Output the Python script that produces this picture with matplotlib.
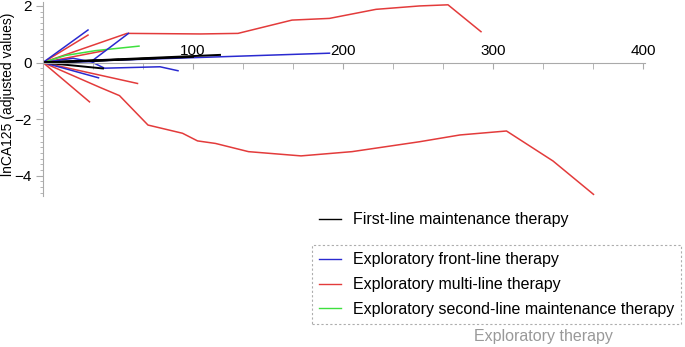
import matplotlib.pyplot as plt
from matplotlib.lines import Line2D
from matplotlib.ticker import MultipleLocator, FixedLocator

plt.rcParams['font.family'] = ['Liberation Sans', 'DejaVu Sans']

# first-line maintenance therapy (black)
first_x = [[0, 118], [0, 40], [0, 30, 75], [0, 50], [0, 100]]
first_y = [[0, 0.27], [0, -0.21], [0, 0.05, 0.15], [0, 0.1], [0, 0.2]]

# exploratory front-line therapy (blue)
front_x = [[0, 30], [0, 20, 32, 57], [0, 32, 41, 78, 90], [0, 37], [0, 105, 191]]
front_y = [[0, 1.15], [0, 0.15, 0.03, 1.03], [0, 0.03, -0.2, -0.15, -0.29], [0, -0.54], [0, 0.18, 0.33]]

# exploratory multi-line therapy (red)
multi_x = [[0, 30],
           [0, 56, 105, 130, 166, 191, 222, 251, 270, 292],
           [0, 41],
           [0, 31],
           [0, 63],
           [0, 38, 51, 70, 93, 103, 115, 137, 172, 206, 251, 278, 309, 340, 367]]
multi_y = [[0, 0.97],
           [0, 1.03, 1.01, 1.03, 1.50, 1.56, 1.88, 2.0, 2.04, 1.09],
           [0, 0.42],
           [0, -1.39],
           [0, -0.74],
           [0, -0.88, -1.17, -2.21, -2.50, -2.77, -2.86, -3.15, -3.30, -3.15, -2.80, -2.56, -2.42, -3.48, -4.66]]

# exploratory second-line maintenance therapy (green)
second_x = [[0, 15, 35, 64]]
second_y = [[0, 0.25, 0.42, 0.58]]

BLACK = '#000000'
BLUE = '#2a2ad0'
RED = '#e33b3b'
GREEN = '#3ee03e'

fig = plt.figure(figsize=(6.85, 3.47), dpi=100)
ax = fig.add_axes([43 / 685, (347 - 195.5) / 347, 601.5 / 685, 193.8 / 347])

for xs, ys in zip(multi_x, multi_y):
    ax.plot(xs, ys, color=RED, lw=1.1)
for xs, ys in zip(second_x, second_y):
    ax.plot(xs, ys, color=GREEN, lw=1.1)
for xs, ys in zip(front_x, front_y):
    ax.plot(xs, ys, color=BLUE, lw=1.1)
for xs, ys in zip(first_x, first_y):
    ax.plot(xs, ys, color=BLACK, lw=1.4)

ax.set_xlim(0, 401)
ax.set_ylim(-4.7, 2.15)

for s in ['top', 'right']:
    ax.spines[s].set_visible(False)
ax.spines['bottom'].set_position(('data', 0))
ax.spines['bottom'].set_bounds(0, 401)
ax.spines['bottom'].set_color('#aaaaaa')
ax.spines['left'].set_color('#aaaaaa')

ax.xaxis.set_major_locator(FixedLocator([100, 200, 300, 400]))
ax.xaxis.set_minor_locator(MultipleLocator(100 / 3))
ax.tick_params(axis='x', which='both', direction='out', length=4, color='#aaaaaa',
               pad=-17, labelsize=11)
ax.yaxis.set_major_locator(FixedLocator([-4, -2, 0, 2]))
ax.yaxis.set_minor_locator(MultipleLocator(0.2))
ax.tick_params(axis='y', which='major', length=5, color='#aaaaaa', labelsize=11, pad=3)
ax.tick_params(axis='y', which='minor', length=2.5, color='#aaaaaa')
ax.set_ylabel('lnCA125 (adjusted values)', fontsize=10)
ax.yaxis.set_label_coords(-0.047, 0.52)

# legends
leg1 = fig.legend(handles=[Line2D([], [], color=BLACK, lw=1)],
                  labels=['First-line maintenance therapy'],
                  loc='upper left', bbox_to_anchor=(312 / 685, 1 - 205 / 347),
                  frameon=False, fontsize=11.5, handlelength=1.35, handletextpad=0.75,
                  borderpad=0.45, borderaxespad=0)

leg2 = fig.legend(handles=[Line2D([], [], color=BLUE, lw=1),
                           Line2D([], [], color=RED, lw=1),
                           Line2D([], [], color=GREEN, lw=1)],
                  labels=['Exploratory front-line therapy',
                          'Exploratory multi-line therapy',
                          'Exploratory second-line maintenance therapy'],
                  loc='upper left', bbox_to_anchor=(312 / 685, 1 - 245 / 347),
                  frameon=True, fancybox=False, fontsize=11.5, handlelength=1.35,
                  handletextpad=0.75, borderpad=0.45, borderaxespad=0, labelspacing=0.62)
frame = leg2.get_frame()
frame.set_edgecolor('#999999')
frame.set_linestyle((0, (2, 2)))
frame.set_linewidth(0.8)

fig.text(543 / 685, 1 - 337 / 347, 'Exploratory therapy', color='#999999', fontsize=11.5,
         ha='center', va='center', bbox=dict(facecolor='white', edgecolor='none', pad=1))

fig.savefig('out.png', dpi=100)
